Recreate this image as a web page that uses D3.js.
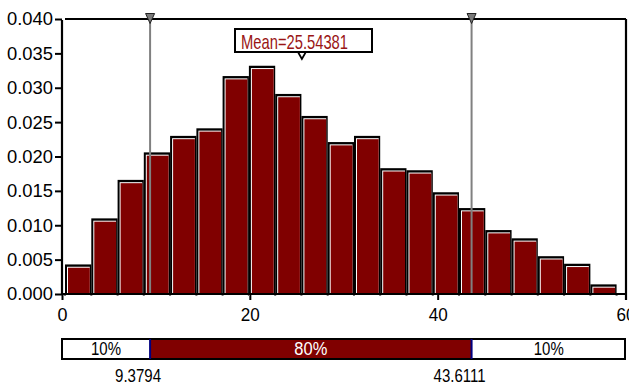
<!DOCTYPE html>
<html>
<head>
<meta charset="utf-8">
<script src="https://cdn.jsdelivr.net/npm/d3@7/dist/d3.min.js"></script>
<style>
  html, body { margin: 0; padding: 0; background: #fff; }
  svg { display: block; }
  text { font-family: "Liberation Sans", Arial, sans-serif; }
</style>
</head>
<body>
<svg id="chart" width="629" height="385"></svg>
<script>
// ---- data ----
const binEdges = [0.32, 3.12, 5.92, 8.71, 11.51, 14.31, 17.10, 19.90, 22.70, 25.49, 28.29,
                  31.09, 33.88, 36.68, 39.48, 42.27, 45.07, 47.87, 50.66, 53.46, 56.26, 59.05];
const density = [0.0043, 0.0110, 0.0166, 0.0206, 0.0230, 0.0241, 0.0317, 0.0332, 0.0291, 0.0259, 0.0221,
                 0.0230, 0.0183, 0.0180, 0.0148, 0.0125, 0.0093, 0.0081, 0.0055, 0.0044, 0.0014];
const yTicks = [0, 0.005, 0.010, 0.015, 0.020, 0.025, 0.030, 0.035, 0.040];
const xTicks = [0, 20, 40, 60];
const lowerP = 9.3794, upperP = 43.6111;
const meanVal = 25.54381;
const pctLabels = ["10%", "80%", "10%"];

// ---- layout ----
const svg = d3.select("#chart");
const x = d3.scaleLinear().domain([0, 60]).range([62, 625.5]);
const y = d3.scaleLinear().domain([0, 0.04]).range([294, 19]);
const xMax = 626;
const FONT = '"Liberation Sans", Arial, sans-serif';

// bars
const bins = density.map((v, i) => ({ x0: binEdges[i], x1: binEdges[i + 1], v }));
const bars = svg.append("g");
bars.selectAll("rect.outer").data(bins).join("rect")
  .attr("x", d => x(d.x0)).attr("y", d => y(d.v))
  .attr("width", d => x(d.x1) - x(d.x0)).attr("height", d => y(0) - y(d.v))
  .attr("fill", "#000");
bars.selectAll("rect.hl").data(bins).join("rect")
  .attr("x", d => x(d.x0) + 2).attr("y", d => y(d.v) + 2.3)
  .attr("width", d => x(d.x1) - x(d.x0) - 3.5).attr("height", d => y(0) - y(d.v) - 2.3)
  .attr("fill", "#fff");
bars.selectAll("rect.fill").data(bins).join("rect")
  .attr("x", d => x(d.x0) + 3).attr("y", d => y(d.v) + 3.3)
  .attr("width", d => x(d.x1) - x(d.x0) - 4.5).attr("height", d => y(0) - y(d.v) - 3.3)
  .attr("fill", "#800000");

// percentile lines
const pLines = svg.append("g");
[lowerP, upperP].forEach(p => {
  pLines.append("line").attr("x1", x(p)).attr("x2", x(p)).attr("y1", y(0.04)).attr("y2", y(0))
    .attr("stroke", "#808080").attr("stroke-width", 2);
});

// axes
const yAxis = d3.axisLeft(y).tickValues(yTicks).tickFormat(d3.format(".3f")).tickSize(7).tickPadding(2);
const gy = svg.append("g").attr("transform", `translate(${x(0)},0)`).call(yAxis);
gy.select(".domain").remove();
gy.selectAll(".tick line").attr("stroke", "#000").attr("stroke-width", 2);
gy.selectAll(".tick text").attr("font-size", 18.5).attr("fill", "#000").attr("font-family", FONT)
  .attr("textLength", 46).attr("lengthAdjust", "spacingAndGlyphs");

const xAxis = d3.axisBottom(x).tickValues(xTicks).tickFormat(d3.format("d")).tickSize(6).tickPadding(8);
const gx = svg.append("g").attr("transform", `translate(0,${y(0)})`).call(xAxis);
gx.select(".domain").remove();
gx.selectAll(".tick line").attr("stroke", "#000").attr("stroke-width", 2);
gx.selectAll(".tick text").attr("font-size", 18.5).attr("fill", "#000").attr("font-family", FONT)
  .attr("textLength", d => d === 0 ? 10 : 19).attr("lengthAdjust", "spacingAndGlyphs");

// bin edge marks
svg.append("g").selectAll("rect").data(binEdges).join("rect")
  .attr("x", d => x(d) - 1).attr("y", y(0) + 1).attr("width", 2).attr("height", 1)
  .attr("fill", "#777");

// frame
const frame = svg.append("g").attr("stroke", "#000").attr("stroke-width", 2.2).attr("fill", "none");
frame.append("line").attr("x1", x(0) + 3).attr("x2", xMax).attr("y1", y(0.04)).attr("y2", y(0.04));
frame.append("line").attr("x1", x(0)).attr("x2", x(0)).attr("y1", y(0.04) + 1).attr("y2", y(0) + 1);
frame.append("line").attr("x1", xMax).attr("x2", xMax).attr("y1", y(0.04)).attr("y2", y(0) + 6);
frame.append("line").attr("x1", x(0)).attr("x2", xMax).attr("y1", y(0)).attr("y2", y(0));

// top triangles for percentile markers
[lowerP, upperP].forEach(p => {
  svg.append("path")
    .attr("d", `M${x(p) - 4.5},${y(0.04) - 5.5} L${x(p) + 4.5},${y(0.04) - 5.5} L${x(p)},${y(0.04) + 4.5} Z`)
    .attr("fill", "#7a7a7a").attr("stroke", "#222").attr("stroke-width", 1);
});

// mean label box
const mx = x(meanVal);
svg.append("rect").attr("x", 235).attr("y", 29).attr("width", 137).attr("height", 23)
  .attr("fill", "#fff").attr("stroke", "#000").attr("stroke-width", 2);
svg.append("text").attr("x", 241).attr("y", 48.5).attr("font-size", 21)
  .attr("textLength", 107).attr("lengthAdjust", "spacingAndGlyphs")
  .attr("fill", "#9a1515").text("Mean=" + meanVal);
svg.append("path")
  .attr("d", `M${mx - 4},${52} L${mx + 4},${52} L${mx},${59} Z`)
  .attr("fill", "#fff").attr("stroke", "#000").attr("stroke-width", 1.8);

// bottom percentile bar
const bTop = 339, bH = 20;
svg.append("rect").attr("x", x(lowerP)).attr("y", bTop).attr("width", x(upperP) - x(lowerP)).attr("height", bH)
  .attr("fill", "#800000");
svg.append("rect").attr("x", x(0)).attr("y", bTop).attr("width", xMax - 1 - x(0)).attr("height", bH)
  .attr("fill", "none").attr("stroke", "#000").attr("stroke-width", 2);
[lowerP, upperP].forEach(p => {
  svg.append("line").attr("x1", x(p)).attr("x2", x(p)).attr("y1", bTop).attr("y2", bTop + bH)
    .attr("stroke", "#000080").attr("stroke-width", 2);
});
const segCenters = [(x(0) + x(lowerP)) / 2, (x(lowerP) + x(upperP)) / 2, (x(upperP) + xMax) / 2];
pctLabels.forEach((t, i) => {
  svg.append("text").attr("x", segCenters[i]).attr("y", bTop + 16).attr("text-anchor", "middle")
    .attr("font-size", 18).attr("textLength", i === 1 ? 33 : 30).attr("lengthAdjust", "spacingAndGlyphs")
    .attr("fill", i === 1 ? "#fff" : "#000").text(t);
});
[[lowerP, "9.3794", 46], [upperP, "43.6111", 52]].forEach(([p, t, w]) => {
  svg.append("text").attr("x", x(p) - 12).attr("y", 382).attr("text-anchor", "middle")
    .attr("font-size", 18).attr("textLength", w).attr("lengthAdjust", "spacingAndGlyphs")
    .attr("fill", "#000").text(t);
});
</script>
</body>
</html>
